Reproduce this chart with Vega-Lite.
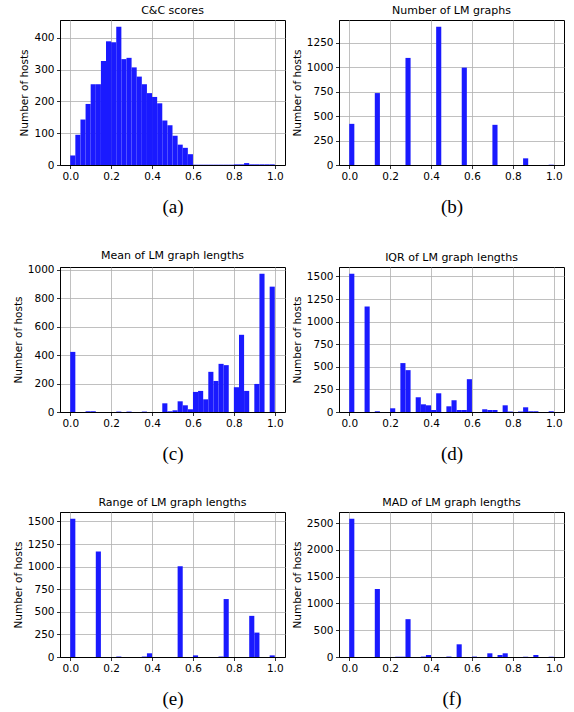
{
  "$schema": "https://vega.github.io/schema/vega-lite/v6.json",
  "padding": {"left": 12, "top": 4, "right": 8, "bottom": 4},
  "columns": 2,
  "spacing": {"column": 5, "row": 32},
  "datasets": {
    "a": [
      {"x0": 0, "x1": 0.025, "n": 30}, {"x0": 0.025, "x1": 0.05, "n": 95}, {"x0": 0.05, "x1": 0.075, "n": 143}, {"x0": 0.075, "x1": 0.1, "n": 192},
      {"x0": 0.1, "x1": 0.125, "n": 254}, {"x0": 0.125, "x1": 0.15, "n": 254}, {"x0": 0.15, "x1": 0.175, "n": 327}, {"x0": 0.175, "x1": 0.2, "n": 389},
      {"x0": 0.2, "x1": 0.225, "n": 386}, {"x0": 0.225, "x1": 0.25, "n": 435}, {"x0": 0.25, "x1": 0.275, "n": 333}, {"x0": 0.275, "x1": 0.3, "n": 337},
      {"x0": 0.3, "x1": 0.325, "n": 307}, {"x0": 0.325, "x1": 0.35, "n": 278}, {"x0": 0.35, "x1": 0.375, "n": 254}, {"x0": 0.375, "x1": 0.4, "n": 226},
      {"x0": 0.4, "x1": 0.425, "n": 214}, {"x0": 0.425, "x1": 0.45, "n": 194}, {"x0": 0.45, "x1": 0.475, "n": 140}, {"x0": 0.475, "x1": 0.5, "n": 125},
      {"x0": 0.5, "x1": 0.525, "n": 92}, {"x0": 0.525, "x1": 0.55, "n": 64}, {"x0": 0.55, "x1": 0.575, "n": 54}, {"x0": 0.575, "x1": 0.6, "n": 34},
      {"x0": 0.6, "x1": 0.625, "n": 1}, {"x0": 0.625, "x1": 0.65, "n": 1}, {"x0": 0.65, "x1": 0.675, "n": 1}, {"x0": 0.675, "x1": 0.7, "n": 1},
      {"x0": 0.7, "x1": 0.725, "n": 1}, {"x0": 0.725, "x1": 0.75, "n": 1}, {"x0": 0.75, "x1": 0.775, "n": 1}, {"x0": 0.775, "x1": 0.8, "n": 1},
      {"x0": 0.8, "x1": 0.825, "n": 2}, {"x0": 0.825, "x1": 0.85, "n": 2}, {"x0": 0.85, "x1": 0.875, "n": 6}, {"x0": 0.875, "x1": 0.9, "n": 2},
      {"x0": 0.9, "x1": 0.925, "n": 2}, {"x0": 0.925, "x1": 0.95, "n": 2}, {"x0": 0.95, "x1": 0.975, "n": 2}, {"x0": 0.975, "x1": 1.0, "n": 2}
    ],
    "b": [
      {"x0": 0, "x1": 0.025, "n": 420}, {"x0": 0.125, "x1": 0.15, "n": 734}, {"x0": 0.275, "x1": 0.3, "n": 1093}, {"x0": 0.425, "x1": 0.45, "n": 1410},
      {"x0": 0.55, "x1": 0.575, "n": 994}, {"x0": 0.7, "x1": 0.725, "n": 410}, {"x0": 0.85, "x1": 0.875, "n": 68}, {"x0": 0.975, "x1": 1.0, "n": 3}
    ],
    "c": [
      {"x0": 0, "x1": 0.025, "n": 422}, {"x0": 0.075, "x1": 0.1, "n": 5}, {"x0": 0.1, "x1": 0.125, "n": 5}, {"x0": 0.225, "x1": 0.25, "n": 3},
      {"x0": 0.275, "x1": 0.3, "n": 3}, {"x0": 0.35, "x1": 0.375, "n": 3}, {"x0": 0.45, "x1": 0.475, "n": 61}, {"x0": 0.475, "x1": 0.5, "n": 5},
      {"x0": 0.5, "x1": 0.525, "n": 12}, {"x0": 0.525, "x1": 0.55, "n": 75}, {"x0": 0.55, "x1": 0.575, "n": 47}, {"x0": 0.575, "x1": 0.6, "n": 19},
      {"x0": 0.6, "x1": 0.625, "n": 141}, {"x0": 0.625, "x1": 0.65, "n": 148}, {"x0": 0.65, "x1": 0.675, "n": 89}, {"x0": 0.675, "x1": 0.7, "n": 282},
      {"x0": 0.7, "x1": 0.725, "n": 218}, {"x0": 0.725, "x1": 0.75, "n": 338}, {"x0": 0.75, "x1": 0.775, "n": 329}, {"x0": 0.8, "x1": 0.825, "n": 174},
      {"x0": 0.825, "x1": 0.85, "n": 542}, {"x0": 0.85, "x1": 0.875, "n": 148}, {"x0": 0.9, "x1": 0.925, "n": 197}, {"x0": 0.925, "x1": 0.95, "n": 970},
      {"x0": 0.975, "x1": 1.0, "n": 880}
    ],
    "d": [
      {"x0": 0, "x1": 0.025, "n": 1530}, {"x0": 0.075, "x1": 0.1, "n": 1167}, {"x0": 0.125, "x1": 0.15, "n": 8}, {"x0": 0.2, "x1": 0.225, "n": 41},
      {"x0": 0.25, "x1": 0.275, "n": 541}, {"x0": 0.275, "x1": 0.3, "n": 463}, {"x0": 0.325, "x1": 0.35, "n": 163}, {"x0": 0.35, "x1": 0.375, "n": 85},
      {"x0": 0.375, "x1": 0.4, "n": 74}, {"x0": 0.4, "x1": 0.425, "n": 22}, {"x0": 0.425, "x1": 0.45, "n": 207}, {"x0": 0.475, "x1": 0.5, "n": 63},
      {"x0": 0.5, "x1": 0.525, "n": 130}, {"x0": 0.525, "x1": 0.55, "n": 22}, {"x0": 0.55, "x1": 0.575, "n": 22}, {"x0": 0.575, "x1": 0.6, "n": 363},
      {"x0": 0.65, "x1": 0.675, "n": 30}, {"x0": 0.675, "x1": 0.7, "n": 22}, {"x0": 0.7, "x1": 0.725, "n": 22}, {"x0": 0.75, "x1": 0.775, "n": 74},
      {"x0": 0.775, "x1": 0.8, "n": 5}, {"x0": 0.825, "x1": 0.85, "n": 5}, {"x0": 0.85, "x1": 0.875, "n": 52}, {"x0": 0.875, "x1": 0.9, "n": 8},
      {"x0": 0.9, "x1": 0.925, "n": 8}, {"x0": 0.975, "x1": 1.0, "n": 8}
    ],
    "e": [
      {"x0": 0, "x1": 0.025, "n": 1530}, {"x0": 0.125, "x1": 0.15, "n": 1167}, {"x0": 0.225, "x1": 0.25, "n": 5}, {"x0": 0.35, "x1": 0.375, "n": 5},
      {"x0": 0.375, "x1": 0.4, "n": 41}, {"x0": 0.525, "x1": 0.55, "n": 1004}, {"x0": 0.6, "x1": 0.625, "n": 18}, {"x0": 0.725, "x1": 0.75, "n": 5},
      {"x0": 0.75, "x1": 0.775, "n": 641}, {"x0": 0.875, "x1": 0.9, "n": 455}, {"x0": 0.9, "x1": 0.925, "n": 270}, {"x0": 0.975, "x1": 1.0, "n": 18}
    ],
    "f": [
      {"x0": 0, "x1": 0.025, "n": 2581}, {"x0": 0.125, "x1": 0.15, "n": 1269}, {"x0": 0.225, "x1": 0.25, "n": 5}, {"x0": 0.25, "x1": 0.275, "n": 5},
      {"x0": 0.275, "x1": 0.3, "n": 706}, {"x0": 0.35, "x1": 0.375, "n": 8}, {"x0": 0.375, "x1": 0.4, "n": 37}, {"x0": 0.475, "x1": 0.5, "n": 8},
      {"x0": 0.525, "x1": 0.55, "n": 237}, {"x0": 0.6, "x1": 0.625, "n": 8}, {"x0": 0.675, "x1": 0.7, "n": 69}, {"x0": 0.725, "x1": 0.75, "n": 37},
      {"x0": 0.75, "x1": 0.775, "n": 69}, {"x0": 0.85, "x1": 0.875, "n": 5}, {"x0": 0.9, "x1": 0.925, "n": 37}, {"x0": 0.975, "x1": 1.0, "n": 5}
    ]
  },
  "config": {
    "view": {"stroke": "#000000", "strokeWidth": 1},
    "axis": {
      "domain": true, "domainColor": "#000000", "domainWidth": 1,
      "grid": true, "gridColor": "#b0b0b0", "gridWidth": 0.8, "gridOpacity": 1,
      "tickColor": "#000000", "tickSize": 3.5, "tickWidth": 0.8,
      "labelFont": "DejaVu Sans", "labelFontSize": 10.5, "labelColor": "#000000", "labelPadding": 2.5,
      "labelFlush": false, "labelOverlap": false, "zindex": 1
    },
    "axisX": {"titleFont": "Liberation Serif", "titleFontSize": 19, "titleFontWeight": "normal", "titleColor": "#000000", "titlePadding": 16},
    "axisY": {"titleFont": "DejaVu Sans", "titleFontSize": 10.5, "titleFontWeight": "normal", "titleColor": "#000000", "titlePadding": 4},
    "title": {"font": "DejaVu Sans", "fontSize": 11, "fontWeight": "normal", "color": "#000000", "offset": 4},
    "bar": {"fill": "#1a1aff"}
  },
  "concat": [
    {
      "data": {"name": "a"}, "width": 225, "height": 145, "title": "C&C scores",
      "mark": {"type": "bar"},
      "encoding": {
        "x": {"field": "x0", "type": "quantitative", "scale": {"domain": [-0.05, 1.05], "nice": false, "zero": false}, "axis": {"values": [0, 0.2, 0.4, 0.6, 0.8, 1.0], "format": ".1f", "title": "(a)"}},
        "x2": {"field": "x1"},
        "y": {"field": "n", "type": "quantitative", "scale": {"domain": [0, 456], "nice": false}, "axis": {"values": [0, 100, 200, 300, 400], "format": "d", "title": "Number of hosts"}},
        "y2": {"datum": 0}
      }
    },
    {
      "data": {"name": "b"}, "width": 225, "height": 145, "title": "Number of LM graphs",
      "mark": {"type": "bar"},
      "encoding": {
        "x": {"field": "x0", "type": "quantitative", "scale": {"domain": [-0.05, 1.05], "nice": false, "zero": false}, "axis": {"values": [0, 0.2, 0.4, 0.6, 0.8, 1.0], "format": ".1f", "title": "(b)"}},
        "x2": {"field": "x1"},
        "y": {"field": "n", "type": "quantitative", "scale": {"domain": [0, 1480], "nice": false}, "axis": {"values": [0, 250, 500, 750, 1000, 1250], "format": "d", "title": "Number of hosts"}},
        "y2": {"datum": 0}
      }
    },
    {
      "data": {"name": "c"}, "width": 225, "height": 145, "title": "Mean of LM graph lengths",
      "mark": {"type": "bar"},
      "encoding": {
        "x": {"field": "x0", "type": "quantitative", "scale": {"domain": [-0.05, 1.05], "nice": false, "zero": false}, "axis": {"values": [0, 0.2, 0.4, 0.6, 0.8, 1.0], "format": ".1f", "title": "(c)"}},
        "x2": {"field": "x1"},
        "y": {"field": "n", "type": "quantitative", "scale": {"domain": [0, 1018], "nice": false}, "axis": {"values": [0, 200, 400, 600, 800, 1000], "format": "d", "title": "Number of hosts"}},
        "y2": {"datum": 0}
      }
    },
    {
      "data": {"name": "d"}, "width": 225, "height": 145, "title": "IQR of LM graph lengths",
      "mark": {"type": "bar"},
      "encoding": {
        "x": {"field": "x0", "type": "quantitative", "scale": {"domain": [-0.05, 1.05], "nice": false, "zero": false}, "axis": {"values": [0, 0.2, 0.4, 0.6, 0.8, 1.0], "format": ".1f", "title": "(d)"}},
        "x2": {"field": "x1"},
        "y": {"field": "n", "type": "quantitative", "scale": {"domain": [0, 1604], "nice": false}, "axis": {"values": [0, 250, 500, 750, 1000, 1250, 1500], "format": "d", "title": "Number of hosts"}},
        "y2": {"datum": 0}
      }
    },
    {
      "data": {"name": "e"}, "width": 225, "height": 145, "title": "Range of LM graph lengths",
      "mark": {"type": "bar"},
      "encoding": {
        "x": {"field": "x0", "type": "quantitative", "scale": {"domain": [-0.05, 1.05], "nice": false, "zero": false}, "axis": {"values": [0, 0.2, 0.4, 0.6, 0.8, 1.0], "format": ".1f", "title": "(e)"}},
        "x2": {"field": "x1"},
        "y": {"field": "n", "type": "quantitative", "scale": {"domain": [0, 1604], "nice": false}, "axis": {"values": [0, 250, 500, 750, 1000, 1250, 1500], "format": "d", "title": "Number of hosts"}},
        "y2": {"datum": 0}
      }
    },
    {
      "data": {"name": "f"}, "width": 225, "height": 145, "title": "MAD of LM graph lengths",
      "mark": {"type": "bar"},
      "encoding": {
        "x": {"field": "x0", "type": "quantitative", "scale": {"domain": [-0.05, 1.05], "nice": false, "zero": false}, "axis": {"values": [0, 0.2, 0.4, 0.6, 0.8, 1.0], "format": ".1f", "title": "(f)"}},
        "x2": {"field": "x1"},
        "y": {"field": "n", "type": "quantitative", "scale": {"domain": [0, 2706], "nice": false}, "axis": {"values": [0, 500, 1000, 1500, 2000, 2500], "format": "d", "title": "Number of hosts"}},
        "y2": {"datum": 0}
      }
    }
  ]
}
